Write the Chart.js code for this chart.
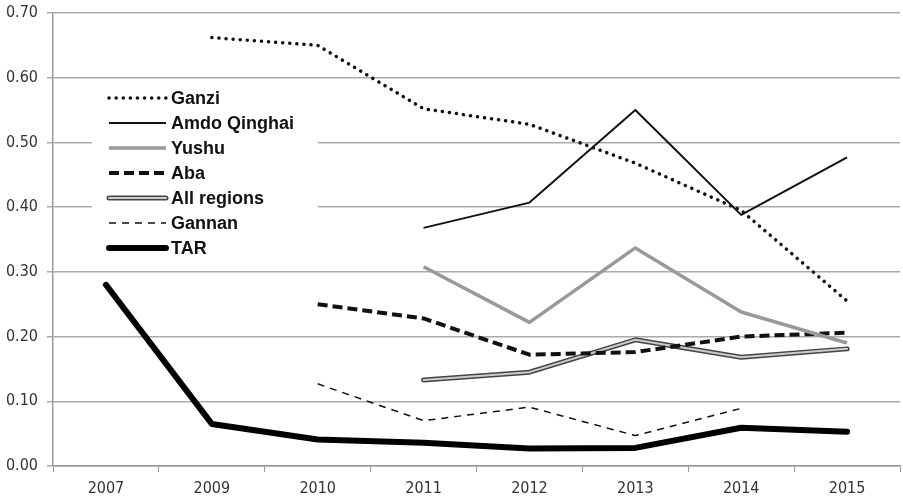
<!DOCTYPE html>
<html>
<head>
<meta charset="utf-8">
<script src="https://cdn.jsdelivr.net/npm/chart.js@4/dist/chart.umd.min.js"></script>
<style>
  html, body { margin: 0; padding: 0; background: #fff; }
  #box { width: 903px; height: 501px; }
</style>
</head>
<body>
<div id="box"><canvas id="grafico"></canvas></div>
<script>
// dados do gráfico
const years = ['2007', '2009', '2010', '2011', '2012', '2013', '2014', '2015'];
const yTicks = [0, 0.1, 0.2, 0.3, 0.4, 0.5, 0.6, 0.7];

const ganzi = [null, 0.662, 0.650, 0.552, 0.528, 0.468, 0.395, 0.255];
const amdoQinghai = [null, null, null, 0.368, 0.407, 0.550, 0.388, 0.477];
const yushu = [null, null, null, 0.308, 0.222, 0.337, 0.238, 0.190];
const aba = [null, null, 0.250, 0.228, 0.172, 0.176, 0.200, 0.206];
const allRegions = [null, null, null, 0.133, 0.145, 0.195, 0.168, 0.181];
const gannan = [null, null, 0.127, 0.070, 0.091, 0.047, 0.089, null];
const tar = [0.280, 0.065, 0.041, 0.036, 0.027, 0.028, 0.059, 0.053];

const tickFont = { family: "'DejaVu Sans Condensed', 'DejaVu Sans', sans-serif", size: 16 };

function serie(label, values, color, width, dash, cap) {
  return {
    label: label,
    data: values,
    borderColor: color,
    backgroundColor: color,
    borderWidth: width,
    borderDash: dash,
    borderCapStyle: cap,
    borderJoinStyle: 'round',
    pointRadius: 0,
    pointHoverRadius: 0,
    tension: 0,
    fill: false
  };
}

// legenda desenhada dentro da área do gráfico, com fundo branco
const legendaInterna = {
  id: 'legendaInterna',
  afterDatasetsDraw(chart) {
    const ctx = chart.ctx;
    ctx.save();
    ctx.fillStyle = '#fff';
    ctx.fillRect(92, 84, 226, 174);
    const items = [
      { text: 'Ganzi', color: '#111', width: 3.5, dash: [0.1, 7], cap: 'round' },
      { text: 'Amdo Qinghai', color: '#111', width: 2, dash: [], cap: 'butt' },
      { text: 'Yushu', color: '#999', width: 3.5, dash: [], cap: 'butt' },
      { text: 'Aba', color: '#111', width: 4, dash: [10, 5], cap: 'butt' },
      { text: 'All regions', color: '#444', width: 5, dash: [], cap: 'round', inner: '#ccc' },
      { text: 'Gannan', color: '#111', width: 1.5, dash: [7, 6], cap: 'butt' },
      { text: 'TAR', color: '#000', width: 6, dash: [], cap: 'round' }
    ];
    ctx.font = "bold 18px 'Liberation Sans', Arial, sans-serif";
    ctx.textBaseline = 'middle';
    items.forEach((it, i) => {
      const y = 98 + i * 25;
      ctx.beginPath();
      ctx.setLineDash(it.dash);
      ctx.lineCap = it.cap;
      ctx.lineWidth = it.width;
      ctx.strokeStyle = it.color;
      ctx.moveTo(109, y);
      ctx.lineTo(166, y);
      ctx.stroke();
      if (it.inner) {
        ctx.beginPath();
        ctx.lineWidth = 2;
        ctx.strokeStyle = it.inner;
        ctx.moveTo(109, y);
        ctx.lineTo(166, y);
        ctx.stroke();
      }
      ctx.setLineDash([]);
      ctx.fillStyle = '#111';
      ctx.fillText(it.text, 171, y + 1);
    });
    ctx.restore();
  }
};

// o traço interno de "All regions" vem antes para ficar por cima
let data = {
  labels: years,
  datasets: [
    serie('Ganzi', ganzi, '#111', 3.5, [0.1, 7], 'round'),
    serie('Amdo Qinghai', amdoQinghai, '#111', 2, [], 'butt'),
    serie('Yushu', yushu, '#999', 3.5, [], 'butt'),
    serie('Aba', aba, '#111', 4, [10, 5], 'butt'),
    serie('All regions (inner)', allRegions, '#ccc', 2, [], 'round'),
    serie('All regions', allRegions, '#444', 5, [], 'round'),
    serie('Gannan', gannan, '#111', 1.5, [7, 6], 'butt'),
    serie('TAR', tar, '#000', 6, [], 'round')
  ]
};

let options = {
  responsive: true,
  maintainAspectRatio: false,
  animation: false,
  layout: { padding: { top: 13, right: 3, left: 0, bottom: 0 } },
  plugins: {
    legend: { display: false },
    tooltip: { enabled: false }
  },
  scales: {
    x: {
      type: 'category',
      offset: true,
      grid: {
        offset: true,
        drawOnChartArea: false,
        color: '#999',
        tickLength: 6
      },
      border: { color: '#999', width: 1.5 },
      ticks: { color: '#333', font: tickFont, padding: 7, maxRotation: 0 },
      afterFit(scale) { scale.height = 35; }
    },
    y: {
      min: 0,
      max: 0.7,
      afterBuildTicks(scale) { scale.ticks = yTicks.map(v => ({ value: v })); },
      grid: { color: '#aaa', lineWidth: 1.5, tickLength: 6 },
      border: { color: '#999', width: 1.5 },
      ticks: {
        color: '#333',
        font: tickFont,
        padding: 9,
        callback: v => Number(v).toFixed(2)
      },
      afterFit(scale) {
        scale.width = 53;
        scale.paddingTop = 0;
        scale.paddingBottom = 0;
      }
    }
  }
};

let ctx = document.querySelector('#grafico').getContext('2d');
let lineChart = new Chart(ctx, {
  type: 'line',
  data: data,
  options: options,
  plugins: [legendaInterna]
});
</script>
</body>
</html>
